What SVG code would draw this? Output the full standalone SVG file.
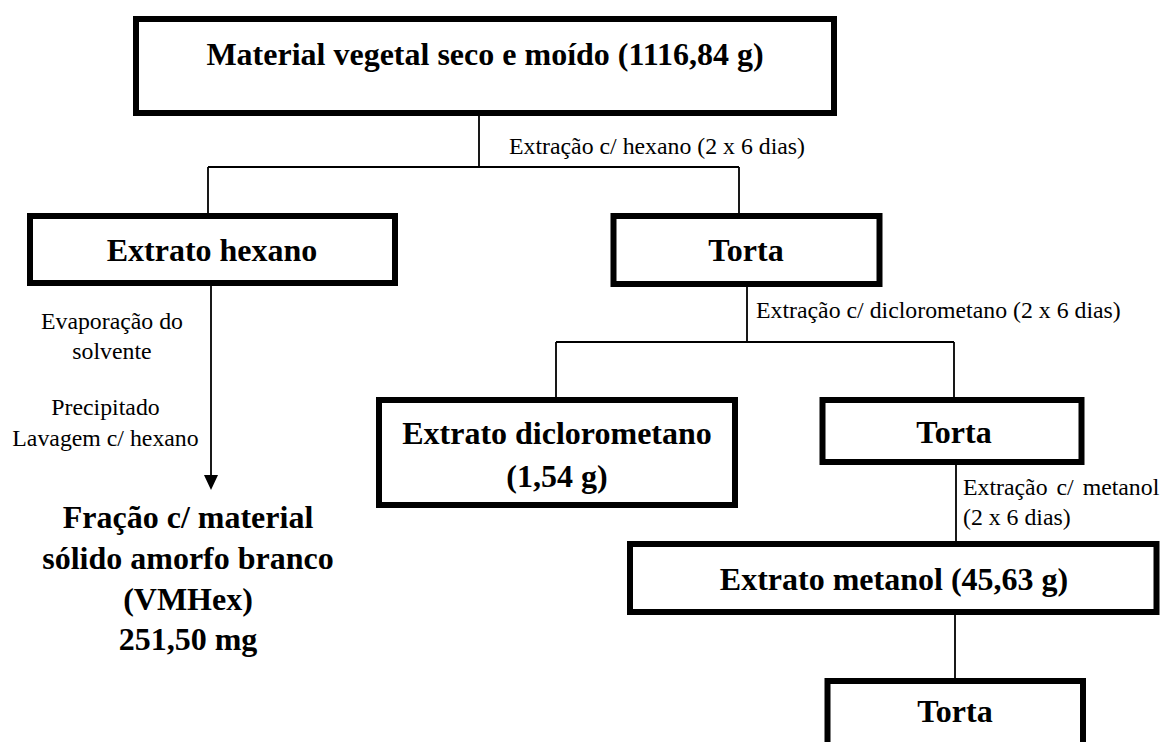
<svg xmlns="http://www.w3.org/2000/svg" width="1164" height="742" viewBox="0 0 1164 742">
<style>
.box{fill:#fff;stroke:#000;stroke-width:6}
.b{font-family:"Liberation Serif","Times New Roman",serif;font-weight:bold;font-size:32px;fill:#000;text-anchor:middle}
.r{font-family:"Liberation Serif","Times New Roman",serif;font-size:23.8px;fill:#000}
.c{text-anchor:middle}
.ln{stroke:#000;stroke-width:1.8;fill:none}
</style>
<rect width="1164" height="742" fill="#fff"/>
<g id="connectors">
<path class="ln" d="M479,113 V167 M208,167 H739 M208,167 V213 M739,167 V213"/>
<path class="ln" d="M211,285 V476"/>
<polygon points="204,475 218,475 211,490" fill="#000"/>
<path class="ln" d="M747,287 V342 M556,342 H954 M556,342 V397 M954,342 V397"/>
<path class="ln" d="M956,465 V541"/>
<path class="ln" d="M955,615 V678"/>
<text class="r" x="509" y="154">Extração c/ hexano (2 x 6 dias)</text>
<text class="r c" x="112" y="329">Evaporação do</text>
<text class="r c" x="112" y="359">solvente</text>
<text class="r c" x="105.5" y="415">Precipitado</text>
<text class="r c" x="105.5" y="446">Lavagem c/ hexano</text>
<text class="r" x="756" y="318">Extração c/ diclorometano (2 x 6 dias)</text>
<text class="r" x="963" y="495" word-spacing="3">Extração c/ metanol</text>
<text class="r" x="963" y="525">(2 x 6 dias)</text>
</g>
<g id="n-material">
<rect class="box" x="136" y="19" width="698" height="94"/>
<text class="b" x="485" y="65">Material vegetal seco e moído (1116,84 g)</text>
</g>
<g id="n-extrato-hexano">
<rect class="box" x="30" y="216" width="365" height="67"/>
<text class="b" x="212" y="261">Extrato hexano</text>
</g>
<g id="n-torta1">
<rect class="box" x="613.5" y="216" width="266" height="68"/>
<text class="b" x="746" y="261">Torta</text>
</g>
<g id="n-fracao">
<text class="b" x="188" y="528">Fração c/ material</text>
<text class="b" x="188" y="569">sólido amorfo branco</text>
<text class="b" x="188" y="610">(VMHex)</text>
<text class="b" x="188" y="650">251,50 mg</text>
</g>
<g id="n-extrato-dcm">
<rect class="box" x="379" y="400" width="356" height="105"/>
<text class="b" x="557" y="444">Extrato diclorometano</text>
<text class="b" x="557" y="487">(1,54 g)</text>
</g>
<g id="n-torta2">
<rect class="box" x="822.5" y="400" width="259" height="62"/>
<text class="b" x="954" y="443">Torta</text>
</g>
<g id="n-extrato-metanol">
<rect class="box" x="630" y="544" width="526.5" height="68"/>
<text class="b" x="894" y="590">Extrato metanol (45,63 g)</text>
</g>
<g id="n-torta3">
<rect class="box" x="827.5" y="681" width="255.5" height="100"/>
<text class="b" x="955" y="722">Torta</text>
</g>
</svg>
